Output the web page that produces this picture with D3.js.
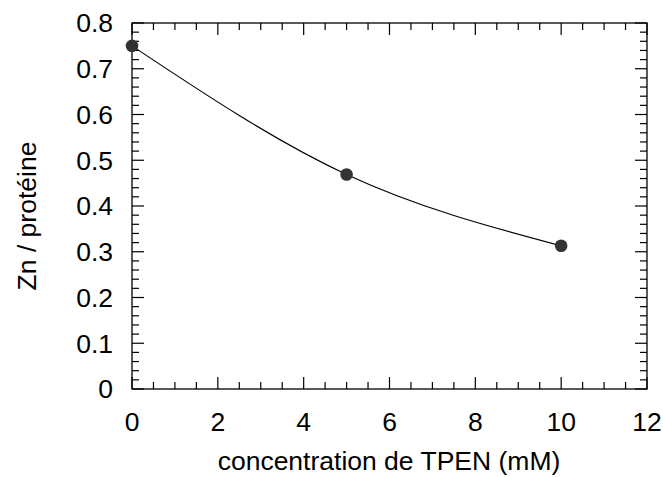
<!DOCTYPE html>
<html><head><meta charset="utf-8">
<script src="https://cdn.jsdelivr.net/npm/d3@7"></script>
<style>body{margin:0;background:#fff}text{font-family:"Liberation Sans",Arial,sans-serif}</style>
</head><body>
<svg id="c" width="663" height="477"></svg>
<script>
const concentrations = [0, 5, 10];
const znPerProtein = [0.75, 0.469, 0.313];
const xTicks = [0, 2, 4, 6, 8, 10, 12];
const yTicks = [0, 0.1, 0.2, 0.3, 0.4, 0.5, 0.6, 0.7, 0.8];

const svg = d3.select("#c");
const L = 132, R = 647, T = 23, B = 389;
const x = d3.scaleLinear().domain([0, 12]).range([L, R]);
const y = d3.scaleLinear().domain([0, 0.8]).range([B, T]);
const fs = 26.5;

const g = svg.append("g");
g.append("rect").attr("x", L).attr("y", T).attr("width", R - L).attr("height", B - T)
  .attr("fill", "none").attr("stroke", "#000").attr("stroke-width", 1.3);

const xMinor = d3.range(0, 12.001, 0.5);
const yMinor = d3.range(0, 0.8001, 0.02);
const isMajX = v => Math.abs(v / 2 - Math.round(v / 2)) < 1e-6;
const isMajY = v => Math.abs(v * 10 - Math.round(v * 10)) < 1e-6;

xMinor.forEach(v => {
  const len = isMajX(v) ? 12 : 7;
  g.append("line").attr("x1", x(v)).attr("x2", x(v)).attr("y1", B).attr("y2", B - len).attr("stroke", "#000").attr("stroke-width", 1.2);
  g.append("line").attr("x1", x(v)).attr("x2", x(v)).attr("y1", T).attr("y2", T + len).attr("stroke", "#000").attr("stroke-width", 1.2);
});
yMinor.forEach(v => {
  const len = isMajY(v) ? 12 : 7;
  g.append("line").attr("y1", y(v)).attr("y2", y(v)).attr("x1", L).attr("x2", L + len).attr("stroke", "#000").attr("stroke-width", 1.2);
  g.append("line").attr("y1", y(v)).attr("y2", y(v)).attr("x1", R).attr("x2", R - len).attr("stroke", "#000").attr("stroke-width", 1.2);
});

g.selectAll(".xl").data(xTicks).enter().append("text")
  .attr("x", d => x(d)).attr("y", B + 42).attr("text-anchor", "middle")
  .attr("font-size", fs).text(d => d);
g.selectAll(".yl").data(yTicks).enter().append("text")
  .attr("x", 113).attr("y", d => y(d) + 9.3).attr("text-anchor", "end")
  .attr("font-size", fs).text(d => d === 0 ? "0" : d3.format(".1f")(d));

svg.append("text").attr("x", 389).attr("y", 470).attr("text-anchor", "middle")
  .attr("font-size", 26.5).text("concentration de TPEN (mM)");
svg.append("text").attr("transform", `translate(36,216) rotate(-90)`)
  .attr("text-anchor", "middle").attr("font-size", fs).text("Zn / protéine");

const pts = concentrations.map((c, i) => [c, znPerProtein[i]]);
g.append("path").datum(pts)
  .attr("d", d3.line().x(d => x(d[0])).y(d => y(d[1])).curve(d3.curveNatural))
  .attr("fill", "none").attr("stroke", "#000").attr("stroke-width", 1.2);
g.selectAll(".pt").data(pts).enter().append("circle")
  .attr("cx", d => x(d[0])).attr("cy", d => y(d[1])).attr("r", 6.3).attr("fill", "#333");
</script>
</body></html>
